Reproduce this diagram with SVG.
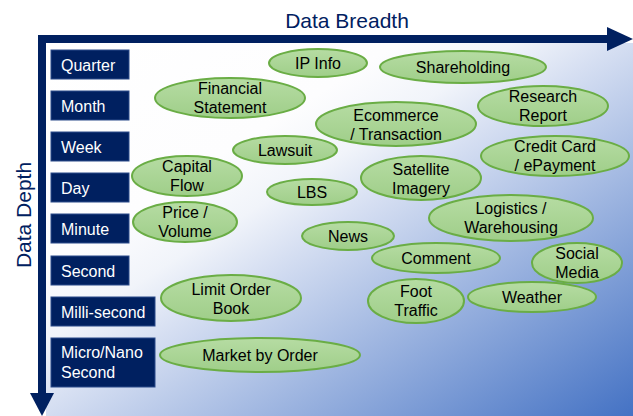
<svg xmlns="http://www.w3.org/2000/svg" width="633" height="416" viewBox="0 0 633 416">
<defs>
<linearGradient id="bg" x1="0" y1="0" x2="1" y2="1">
<stop offset="0" stop-color="#ffffff"/>
<stop offset="0.3" stop-color="#fdfdfe"/>
<stop offset="0.4" stop-color="#f1f4fa"/>
<stop offset="0.49" stop-color="#d6dff2"/>
<stop offset="1" stop-color="#4472c4"/>
</linearGradient>
<linearGradient id="eg" x1="0" y1="0" x2="0" y2="1">
<stop offset="0" stop-color="#b6dca3"/>
<stop offset="1" stop-color="#9fce89"/>
</linearGradient>
<style>
.box{fill:#002060;stroke:#2a4a8a;stroke-width:1}
.bt{font-family:"Liberation Sans",Arial,sans-serif;font-size:16px;fill:#ffffff}
.el{fill:url(#eg);stroke:#6aad45;stroke-width:2}
.et{font-family:"Liberation Sans",Arial,sans-serif;font-size:16px;fill:#000000;text-anchor:middle}
.ax{font-family:"Liberation Sans",Arial,sans-serif;font-size:21px;fill:#002060;text-anchor:middle}
.axis{fill:#002060}
</style>
</defs>
<rect x="46" y="43" width="587" height="373" fill="url(#bg)"/>
<g id="axes">
<rect class="axis" x="38" y="35" width="571" height="8"/>
<polygon class="axis" points="607,27 633,39 607,51"/>
<rect class="axis" x="38" y="35" width="8" height="359"/>
<polygon class="axis" points="30,393 54,393 42,416"/>
<text class="ax" x="347" y="28">Data Breadth</text>
<text class="ax" transform="translate(31,215) rotate(-90)">Data Depth</text>
</g>
<g id="label-quarter"><rect class="box" x="51" y="50" width="78" height="29"/><text class="bt" x="61" y="71">Quarter</text></g>
<g id="label-month"><rect class="box" x="51" y="91" width="78" height="29"/><text class="bt" x="61" y="112">Month</text></g>
<g id="label-week"><rect class="box" x="51" y="132" width="78" height="29"/><text class="bt" x="61" y="153">Week</text></g>
<g id="label-day"><rect class="box" x="51" y="173" width="78" height="29"/><text class="bt" x="61" y="194">Day</text></g>
<g id="label-minute"><rect class="box" x="51" y="214" width="78" height="29"/><text class="bt" x="61" y="235">Minute</text></g>
<g id="label-second"><rect class="box" x="51" y="256" width="78" height="29"/><text class="bt" x="61" y="277">Second</text></g>
<g id="label-millisecond"><rect class="box" x="51" y="297" width="104" height="29"/><text class="bt" x="61" y="318">Milli-second</text></g>
<g id="label-micronano"><rect class="box" x="51" y="338" width="104" height="49"/><text class="bt" x="61" y="358">Micro/Nano</text><text class="bt" x="61" y="378">Second</text></g>

<g id="node-ipinfo"><ellipse class="el" cx="318" cy="63" rx="49" ry="14"/><text class="et" x="318" y="69">IP Info</text></g>
<g id="node-shareholding"><ellipse class="el" cx="463" cy="67" rx="83" ry="16"/><text class="et" x="463" y="73">Shareholding</text></g>
<g id="node-financial"><ellipse class="el" cx="230" cy="98" rx="75" ry="20"/><text class="et" x="230" y="94">Financial</text><text class="et" x="230" y="113">Statement</text></g>
<g id="node-research"><ellipse class="el" cx="543" cy="106" rx="65" ry="20"/><text class="et" x="543" y="102">Research</text><text class="et" x="543" y="121">Report</text></g>
<g id="node-ecommerce"><ellipse class="el" cx="396" cy="124" rx="80" ry="22"/><text class="et" x="396" y="121">Ecommerce</text><text class="et" x="396" y="140">/ Transaction</text></g>
<g id="node-lawsuit"><ellipse class="el" cx="285" cy="150" rx="52" ry="14"/><text class="et" x="285" y="156">Lawsuit</text></g>
<g id="node-creditcard"><ellipse class="el" cx="555" cy="156" rx="74" ry="20"/><text class="et" x="555" y="152">Credit Card</text><text class="et" x="555" y="171">/ ePayment</text></g>
<g id="node-capitalflow"><ellipse class="el" cx="187" cy="176" rx="55" ry="20"/><text class="et" x="187" y="172">Capital</text><text class="et" x="187" y="191">Flow</text></g>
<g id="node-lbs"><ellipse class="el" cx="312" cy="192" rx="45" ry="13"/><text class="et" x="312" y="198">LBS</text></g>
<g id="node-satellite"><ellipse class="el" cx="421" cy="178" rx="60" ry="22"/><text class="et" x="421" y="175">Satellite</text><text class="et" x="421" y="194">Imagery</text></g>
<g id="node-pricevolume"><ellipse class="el" cx="185" cy="222" rx="52" ry="20"/><text class="et" x="185" y="218">Price /</text><text class="et" x="185" y="237">Volume</text></g>
<g id="node-logistics"><ellipse class="el" cx="511" cy="218" rx="82" ry="23"/><text class="et" x="511" y="214">Logistics /</text><text class="et" x="511" y="233">Warehousing</text></g>
<g id="node-news"><ellipse class="el" cx="348" cy="236" rx="46" ry="14"/><text class="et" x="348" y="242">News</text></g>
<g id="node-comment"><ellipse class="el" cx="436" cy="258" rx="64" ry="15"/><text class="et" x="436" y="264">Comment</text></g>
<g id="node-socialmedia"><ellipse class="el" cx="577" cy="263" rx="45" ry="20"/><text class="et" x="577" y="259">Social</text><text class="et" x="577" y="278">Media</text></g>
<g id="node-limitorderbook"><ellipse class="el" cx="231" cy="298" rx="70" ry="23"/><text class="et" x="231" y="295">Limit Order</text><text class="et" x="231" y="314">Book</text></g>
<g id="node-foottraffic"><ellipse class="el" cx="416" cy="301" rx="48" ry="22"/><text class="et" x="416" y="297">Foot</text><text class="et" x="416" y="316">Traffic</text></g>
<g id="node-weather"><ellipse class="el" cx="532" cy="297" rx="64" ry="15"/><text class="et" x="532" y="303">Weather</text></g>
<g id="node-marketbyorder"><ellipse class="el" cx="260" cy="355" rx="100" ry="17"/><text class="et" x="260" y="361">Market by Order</text></g>
</svg>
